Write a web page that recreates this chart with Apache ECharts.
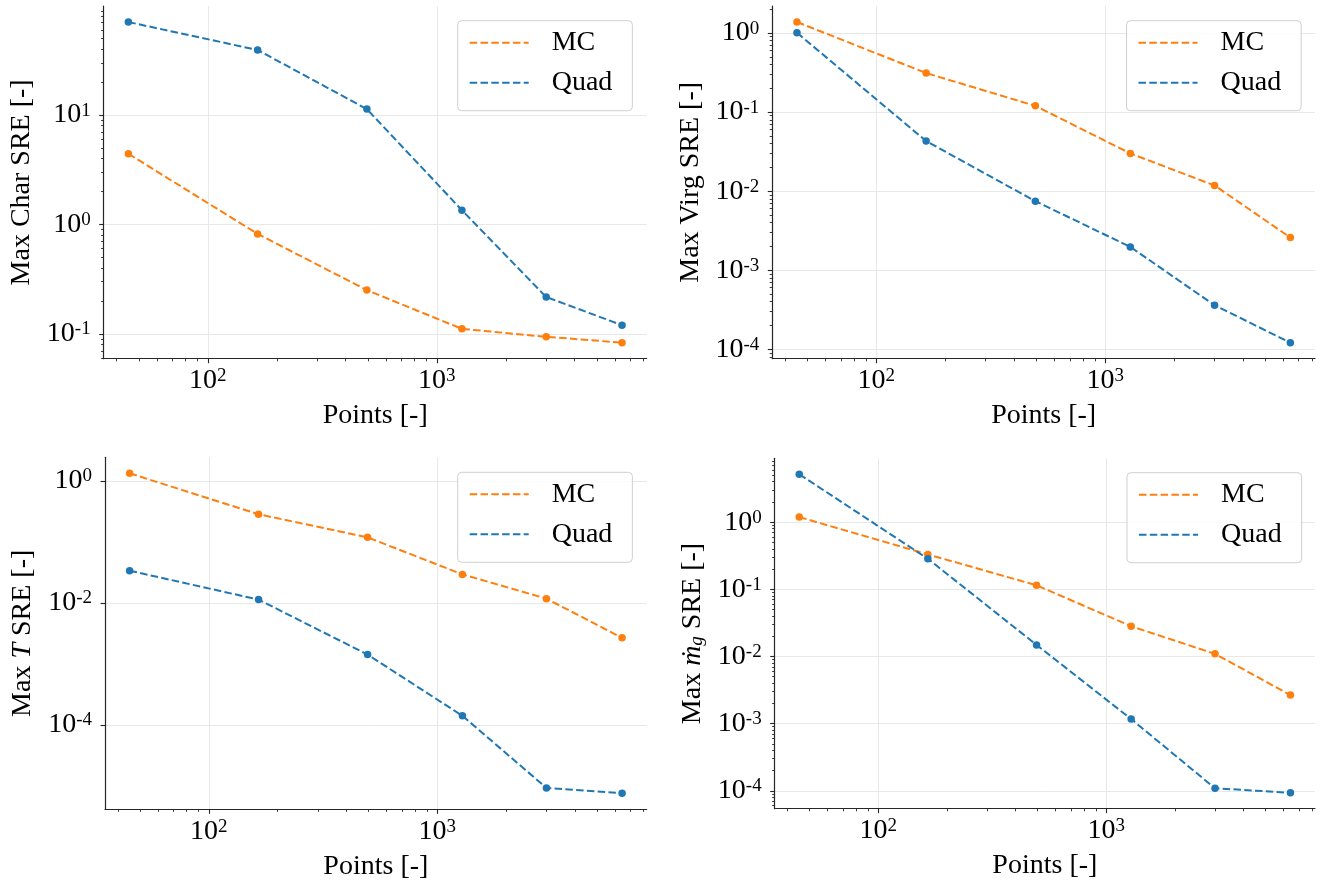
<!DOCTYPE html>
<html>
<head>
<meta charset="utf-8">
<script src="https://cdn.jsdelivr.net/npm/echarts@6/dist/echarts.min.js"></script>
<style>html,body{margin:0;padding:0;background:#fff}#c{width:1324px;height:886px}</style>
</head>
<body>
<div id="c"></div>
<script>
// ---- data ----
const points = [45, 165, 495, 1287, 3003, 6435];
const seriesNames = ['MC', 'Quad'];
const charMC = [4.43, 0.82, 0.251, 0.111, 0.094, 0.083];
const charQuad = [71.0, 39.4, 11.35, 1.35, 0.217, 0.120];
const virgMC = [1.38, 0.312, 0.120, 0.030, 0.0118, 0.00259];
const virgQuad = [1.01, 0.043, 0.00747, 0.00197, 0.00036, 0.000121];
const tempMC = [1.33, 0.283, 0.1186, 0.0293, 0.0117, 0.00267];
const tempQuad = [0.0337, 0.0113, 0.00142, 0.000141, 9.25e-6, 7.55e-6];
const mdotMC = [1.19, 0.331, 0.1147, 0.0282, 0.01094, 0.00266];
const mdotQuad = [5.17, 0.285, 0.01486, 0.00117, 0.000109, 9.34e-5];
const xMajorTicks = [100, 1000];
const charYTicks = [0.1, 1, 10];
const virgYTicks = [0.0001, 0.001, 0.01, 0.1, 1];
const tempYTicks = [0.0001, 0.01, 1];
const mdotYTicks = [0.0001, 0.001, 0.01, 0.1, 1];
const xName = 'Points [-]';
const yNames = ['Max Char SRE [-]', 'Max Virg SRE [-]', 'Max {i|T} SRE [-]', 'Max {i|\u1E41}{sub|g} SRE [-]'];

// ---- style ----
const FONT = '"Liberation Serif", "DejaVu Serif", serif';
const ORANGE = '#ff7f0e', BLUE = '#1f77b4';
const AX = '#262626', GRID = '#e8e8e8';
const FS = 28;

function logRange(arrays) {
  const all = [].concat(...arrays);
  const lo = Math.log10(Math.min(...all)), hi = Math.log10(Math.max(...all));
  const m = 0.05 * (hi - lo);
  return [Math.pow(10, lo - m), Math.pow(10, hi + m)];
}
function minorTicks(range) {
  const out = [];
  for (let d = Math.floor(Math.log10(range[0])); d <= Math.ceil(Math.log10(range[1])); d++) {
    for (let k = 2; k <= 9; k++) {
      const v = k * Math.pow(10, d);
      if (v >= range[0] && v <= range[1]) out.push(v);
    }
  }
  return out;
}
const labelRich = {
  b: {fontFamily: FONT, fontSize: FS, lineHeight: 28, color: '#000'},
  s: {fontFamily: FONT, fontSize: 19, lineHeight: 12, verticalAlign: 'top', color: '#000'}
};
function powLabel(v) {
  const e = Math.round(Math.log10(v));
  return '{b|10}{s|' + e + '}';
}
const nameStyle = {
  fontFamily: FONT, fontSize: FS, color: '#000', lineHeight: 28,
  rich: {
    i: {fontFamily: FONT, fontSize: FS, fontStyle: 'italic', color: '#000', lineHeight: 28},
    sub: {fontFamily: FONT, fontSize: 19, fontStyle: 'italic', color: '#000', lineHeight: 12, verticalAlign: 'bottom'}
  }
};

const panels = [
  {grid: {left: 103.7, top: 6, width: 543, height: 352.7}, mc: charMC, quad: charQuad, yTicks: charYTicks, yMinor: true, legend: {left: 457.7, top: 20.7}},
  {grid: {left: 772.3, top: 6, width: 542.7, height: 352.7}, mc: virgMC, quad: virgQuad, yTicks: virgYTicks, yMinor: true, legend: {left: 1126.5, top: 20.7}},
  {grid: {left: 105, top: 457.3, width: 541.7, height: 352}, mc: tempMC, quad: tempQuad, yTicks: tempYTicks, yMinor: false, legend: {left: 457.7, top: 472.3}},
  {grid: {left: 774.7, top: 458.3, width: 540.3, height: 350.4}, mc: mdotMC, quad: mdotQuad, yTicks: mdotYTicks, yMinor: true, legend: {left: 1127, top: 472.7}}
];

const grids = [], xAxes = [], yAxes = [], series = [], legends = [];
panels.forEach((p, i) => {
  grids.push(Object.assign({containLabel: false}, p.grid));
  const xr = logRange([points]);
  const yr = logRange([p.mc, p.quad]);
  const axLine = {show: true, lineStyle: {color: AX, width: 1.2}};
  xAxes.push({
    type: 'log', gridIndex: i, position: 'bottom', min: xr[0], max: xr[1],
    name: xName, nameLocation: 'middle', nameGap: 43, nameTextStyle: nameStyle,
    axisLine: axLine,
    axisTick: {show: true, length: 4.5, customValues: xMajorTicks, lineStyle: {color: AX, width: 1.1}},
    axisLabel: {show: true, customValues: xMajorTicks, formatter: powLabel, margin: 8, rich: labelRich},
    splitLine: {show: true, lineStyle: {color: GRID, width: 1}},
    minorTick: {show: false}, silent: true
  });
  xAxes.push({
    type: 'log', gridIndex: i, position: 'bottom', min: xr[0], max: xr[1],
    axisLine: {show: false},
    axisTick: {show: true, length: 2.6, customValues: minorTicks(xr), lineStyle: {color: AX, width: 0.9}},
    axisLabel: {show: false}, splitLine: {show: false}, silent: true
  });
  yAxes.push({
    type: 'log', gridIndex: i, position: 'left', min: yr[0], max: yr[1],
    name: yNames[i], nameLocation: 'middle', nameGap: 68, nameRotate: 90, nameTextStyle: nameStyle,
    axisLine: axLine,
    axisTick: {show: true, length: 4.5, customValues: p.yTicks, lineStyle: {color: AX, width: 1.1}},
    axisLabel: {show: true, customValues: p.yTicks, formatter: powLabel, margin: 13, rich: labelRich},
    splitLine: {show: true, lineStyle: {color: GRID, width: 1}},
    minorTick: {show: false}, silent: true
  });
  yAxes.push({
    type: 'log', gridIndex: i, position: 'left', min: yr[0], max: yr[1],
    axisLine: {show: false},
    axisTick: {show: p.yMinor, length: 2.6, customValues: p.yMinor ? minorTicks(yr) : [], lineStyle: {color: AX, width: 0.9}},
    axisLabel: {show: false}, splitLine: {show: false}, silent: true
  });
  const vals = [p.mc, p.quad];
  const colors = [ORANGE, BLUE];
  seriesNames.forEach((nm, k) => {
    series.push({
      type: 'line', name: nm, xAxisIndex: 2 * i, yAxisIndex: 2 * i,
      data: points.map((x, j) => [x, vals[k][j]]),
      symbol: 'circle', symbolSize: 7.5, showSymbol: true,
      lineStyle: {color: colors[k], width: 2, type: [7.5, 3.3]},
      itemStyle: {color: colors[k]},
      emphasis: {disabled: true}, z: 2 + k, animation: false, silent: true
    });
  });
  legends.push({
    orient: 'vertical', left: p.legend.left, top: p.legend.top,
    data: seriesNames,
    itemWidth: 59, itemHeight: 20, itemGap: 12,
    padding: [8, 20, 14, 11],
    backgroundColor: 'rgba(255,255,255,0.85)', borderColor: '#cfcfcf', borderWidth: 1, borderRadius: 4,
    itemStyle: {opacity: 0},
    textStyle: {fontFamily: FONT, fontSize: FS, color: '#000', lineHeight: 28, padding: [0, 0, 0, 18]},
    selectedMode: false
  });
});

const chart = echarts.init(document.getElementById('c'), null, {renderer: 'canvas'});
chart.setOption({
  animation: false,
  backgroundColor: '#fff',
  grid: grids, xAxis: xAxes, yAxis: yAxes, series: series, legend: legends
});
</script>
</body>
</html>
